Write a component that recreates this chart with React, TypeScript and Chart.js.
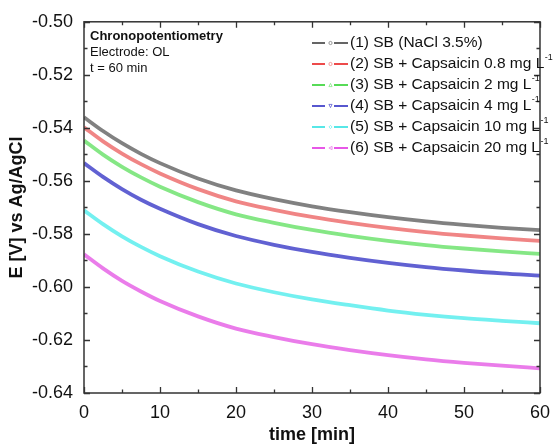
import React, { useEffect, useRef } from "react";
import { Chart, registerables } from "chart.js";

Chart.register(...registerables);

// ---- data ----
const times = [0, 2.5, 5, 7.5, 10, 15, 20, 25, 30, 35, 40, 45, 50, 55, 60];
const sbNaCl = [-0.536, -0.5412, -0.5458, -0.5498, -0.5533, -0.5591, -0.5636, -0.5669, -0.5696, -0.5718, -0.5737, -0.5753, -0.5766, -0.5777, -0.5786];
const caps08 = [-0.5398, -0.5451, -0.5497, -0.5537, -0.5572, -0.5631, -0.5677, -0.5709, -0.5736, -0.5758, -0.5777, -0.5793, -0.5806, -0.5817, -0.5826];
const caps2 = [-0.5448, -0.5501, -0.5547, -0.5587, -0.5622, -0.568, -0.5726, -0.5758, -0.5785, -0.5807, -0.5826, -0.5842, -0.5855, -0.5866, -0.5875];
const caps4 = [-0.5533, -0.5585, -0.5631, -0.5671, -0.5705, -0.5763, -0.5808, -0.5841, -0.5868, -0.589, -0.5909, -0.5925, -0.5938, -0.5949, -0.5957];
const caps10 = [-0.5711, -0.5763, -0.5809, -0.5849, -0.5884, -0.5942, -0.5987, -0.602, -0.6047, -0.6069, -0.6089, -0.6105, -0.6118, -0.6128, -0.6137];
const caps20 = [-0.5877, -0.593, -0.5977, -0.6017, -0.6053, -0.6111, -0.6157, -0.6189, -0.6216, -0.6238, -0.6257, -0.6273, -0.6286, -0.6297, -0.6307];

const seriesValues = [sbNaCl, caps08, caps2, caps4, caps10, caps20];
const seriesLabels = [
  "(1) SB (NaCl 3.5%)",
  "(2) SB + Capsaicin 0.8 mg L",
  "(3) SB + Capsaicin 2 mg L",
  "(4) SB + Capsaicin 4 mg L",
  "(5) SB + Capsaicin 10 mg L",
  "(6) SB + Capsaicin 20 mg L",
];
const seriesSup = ["", "-1", "-1", "-1", "-1", "-1"];
const lineColors = [
  "rgba(115,115,115,0.9)",
  "rgba(238,120,120,0.9)",
  "rgba(120,228,120,0.9)",
  "rgba(80,80,205,0.9)",
  "rgba(100,238,238,0.9)",
  "rgba(232,110,232,0.9)",
];
const legendColors = ["#333333", "#e81010", "#20d020", "#2020c0", "#20e0e0", "#e020e0"];
const markerShapes = ["circle", "circle", "triUp", "triDown", "diamond", "triLeft"];

const xTicks = [0, 10, 20, 30, 40, 50, 60];
const yTicks = [-0.64, -0.62, -0.6, -0.58, -0.56, -0.54, -0.52, -0.5];
const noteLines = ["Chronopotentiometry", "Electrode: OL", "t = 60 min"];
const xTitle = "time [min]";
const yTitle = "E [V] vs Ag/AgCl";

const FONT = "'Liberation Sans', Arial, Helvetica, sans-serif";

function drawMarker(ctx: CanvasRenderingContext2D, shape: string, x: number, y: number, r: number) {
  ctx.beginPath();
  if (shape === "circle") {
    ctx.arc(x, y, r, 0, Math.PI * 2);
  } else if (shape === "triUp") {
    ctx.moveTo(x, y - r); ctx.lineTo(x + r, y + r); ctx.lineTo(x - r, y + r); ctx.closePath();
  } else if (shape === "triDown") {
    ctx.moveTo(x, y + r); ctx.lineTo(x + r, y - r); ctx.lineTo(x - r, y - r); ctx.closePath();
  } else if (shape === "diamond") {
    ctx.moveTo(x, y - r); ctx.lineTo(x + r, y); ctx.lineTo(x, y + r); ctx.lineTo(x - r, y); ctx.closePath();
  } else {
    ctx.moveTo(x - r, y); ctx.lineTo(x + r, y - r); ctx.lineTo(x + r, y + r); ctx.closePath();
  }
  ctx.stroke();
}

const framePlugin = {
  id: "frame",
  afterDatasetsDraw(chart: any) {
    const ctx: CanvasRenderingContext2D = chart.ctx;
    const { left, right, top, bottom } = chart.chartArea;
    const xs = chart.scales.x;
    const ys = chart.scales.y;
    ctx.save();
    ctx.strokeStyle = "#333";
    ctx.lineWidth = 1.5;
    ctx.strokeRect(left, top, right - left, bottom - top);

    const major = 6;
    const minor = 3.5;
    ctx.lineWidth = 1.3;
    const xMinor: number[] = [];
    for (let i = 0; i < xTicks.length - 1; i++) xMinor.push((xTicks[i] + xTicks[i + 1]) / 2);
    const yMinor: number[] = [];
    for (let i = 0; i < yTicks.length - 1; i++) yMinor.push((yTicks[i] + yTicks[i + 1]) / 2);

    ctx.beginPath();
    xTicks.forEach((v) => {
      const px = Math.round(xs.getPixelForValue(v)) + 0.5;
      ctx.moveTo(px, bottom); ctx.lineTo(px, bottom - major);
      ctx.moveTo(px, top); ctx.lineTo(px, top + major);
    });
    xMinor.forEach((v) => {
      const px = Math.round(xs.getPixelForValue(v)) + 0.5;
      ctx.moveTo(px, bottom); ctx.lineTo(px, bottom - minor);
      ctx.moveTo(px, top); ctx.lineTo(px, top + minor);
    });
    yTicks.forEach((v) => {
      const py = Math.round(ys.getPixelForValue(v)) + 0.5;
      ctx.moveTo(left, py); ctx.lineTo(left + major, py);
      ctx.moveTo(right, py); ctx.lineTo(right - major, py);
    });
    yMinor.forEach((v) => {
      const py = Math.round(ys.getPixelForValue(v)) + 0.5;
      ctx.moveTo(left, py); ctx.lineTo(left + minor, py);
      ctx.moveTo(right, py); ctx.lineTo(right - minor, py);
    });
    ctx.stroke();

    // annotation
    ctx.fillStyle = "#111";
    ctx.textBaseline = "middle";
    ctx.textAlign = "left";
    ctx.font = `bold 13px ${FONT}`;
    ctx.fillText(noteLines[0], left + 6, top + 15);
    ctx.font = `13px ${FONT}`;
    ctx.fillText(noteLines[1], left + 6, top + 31);
    ctx.fillText(noteLines[2], left + 6, top + 47);

    // legend
    const lx0 = 312;
    const lx1 = 348;
    const tx = 350;
    seriesLabels.forEach((lab, i) => {
      const y = 43 + i * 21;
      ctx.strokeStyle = legendColors[i];
      ctx.lineWidth = 1.6;
      ctx.beginPath();
      ctx.moveTo(lx0, y); ctx.lineTo(lx0 + 13, y);
      ctx.moveTo(lx1 - 14, y); ctx.lineTo(lx1, y);
      ctx.stroke();
      ctx.strokeStyle = lineColors[i];
      ctx.lineWidth = 0.8;
      drawMarker(ctx, markerShapes[i], (lx0 + lx1) / 2 + 0.5, y, 1.6);
      ctx.fillStyle = "#111";
      ctx.font = `15.5px ${FONT}`;
      ctx.fillText(lab, tx, y);
      if (seriesSup[i]) {
        const w = ctx.measureText(lab).width;
        ctx.font = `9px ${FONT}`;
        ctx.fillText(seriesSup[i], tx + w + 0.5, y - 6);
      }
    });
    ctx.restore();
  },
};

export default function App() {
  const ref = useRef<HTMLCanvasElement | null>(null);
  useEffect(() => {
    if (!ref.current) return;
    const datasets = seriesValues.map((vals, i) => ({
      label: seriesLabels[i],
      data: times.map((t, j) => ({ x: t, y: vals[j] })),
      borderColor: lineColors[i],
      backgroundColor: lineColors[i],
      borderWidth: 3.8,
      pointRadius: 0,
      cubicInterpolationMode: "monotone" as const,
      fill: false,
    }));
    const chart = new Chart(ref.current, {
      type: "line",
      data: { datasets },
      plugins: [framePlugin],
      options: {
        animation: false,
        responsive: false,
        devicePixelRatio: 1,
        layout: { padding: { left: 0, top: 21, right: 12, bottom: 0 } },
        plugins: { legend: { display: false }, tooltip: { enabled: false } },
        scales: {
          x: {
            type: "linear",
            min: 0,
            max: 60,
            afterFit: (s: any) => { s.height = 51; },
            afterBuildTicks: (s: any) => { s.ticks = xTicks.map((v) => ({ value: v })); },
            grid: { display: false, drawTicks: false },
            border: { display: false },
            ticks: {
              color: "#111",
              padding: 9,
              font: { family: FONT, size: 18 },
              maxRotation: 0,
              callback: (v: any) => String(v),
            },
            title: {
              display: true,
              text: xTitle,
              color: "#111",
              font: { family: FONT, size: 18, weight: "bold", lineHeight: 1 },
              padding: { top: 0, bottom: 0 },
            },
          },
          y: {
            type: "linear",
            min: -0.64,
            max: -0.5,
            afterFit: (s: any) => { s.width = 84; },
            afterBuildTicks: (s: any) => { s.ticks = yTicks.map((v) => ({ value: v })); },
            grid: { display: false, drawTicks: false },
            border: { display: false },
            ticks: {
              color: "#111",
              padding: 11,
              font: { family: FONT, size: 18 },
              callback: (v: any) => Number(v).toFixed(2),
            },
            title: {
              display: true,
              text: yTitle,
              color: "#111",
              font: { family: FONT, size: 18, weight: "bold", lineHeight: 1 },
              padding: { top: 8, bottom: 8 },
            },
          },
        },
      },
    });
    return () => chart.destroy();
  }, []);
  return (
    <div style={{ position: "absolute", left: 0, top: 0, width: 559, height: 444, background: "#fff" }}>
      <canvas ref={ref} width={559} height={444} />
    </div>
  );
}
